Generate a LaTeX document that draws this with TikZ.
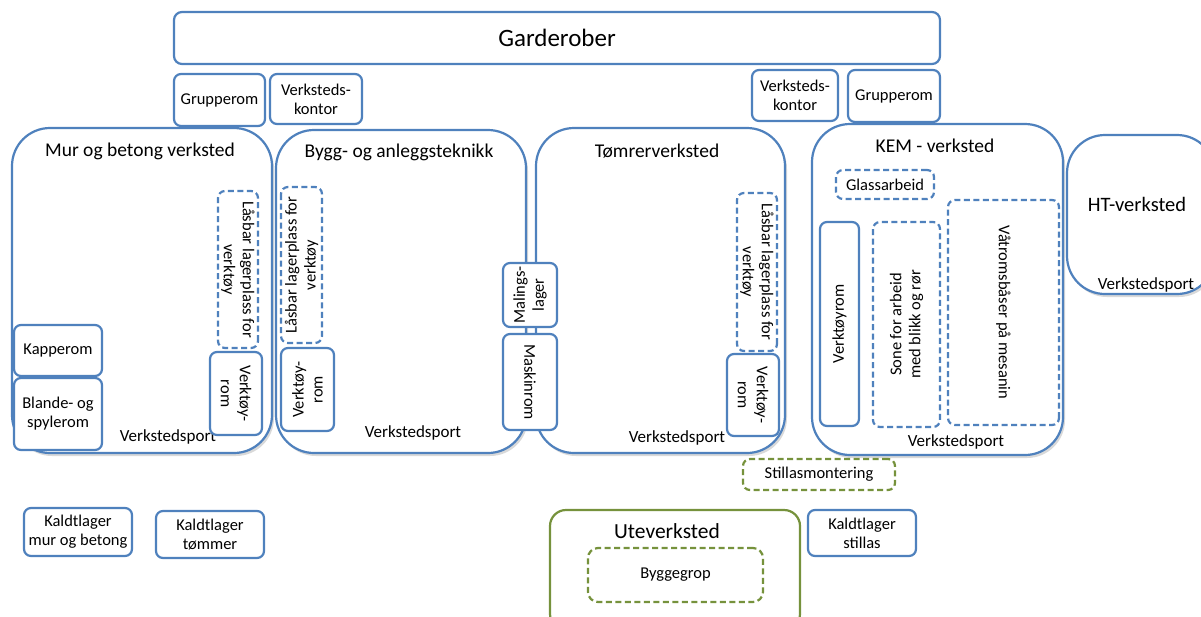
\documentclass[tikz,border=0pt]{standalone}
\usepackage{fontspec}
\setmainfont{Carlito}
\usetikzlibrary{shadows}
\definecolor{planblue}{RGB}{79,129,189}
\definecolor{plangreen}{RGB}{118,146,60}

\begin{document}
\begin{tikzpicture}[x=1pt,y=-1pt,
    room/.style={draw=planblue, line width=2.2pt, rounded corners=7pt, fill=white,
      align=center, inner sep=1pt, font=\fontsize{16.5}{19}\selectfont},
    zone/.style={room, dash pattern=on 6pt off 3.5pt},
    greenzone/.style={zone, draw=plangreen},
    hall/.style={draw=planblue, line width=2.2pt, rounded corners=38pt, fill=white,
      drop shadow={shadow xshift=2pt, shadow yshift=-3pt, opacity=0.3}},
    halltitle/.style={font=\fontsize{19.5}{22}\selectfont, inner sep=0pt},
    port/.style={font=\fontsize{17}{19}\selectfont, inner sep=0pt}]

  \useasboundingbox (0,0) rectangle (1201,616);
  \clip (0,0) rectangle (1201,616);

  % Garderober and offices
  \node[room, rounded corners=8pt, minimum width=766pt, minimum height=52pt,
    font=\fontsize{25}{28}\selectfont] (garderober) at (557,38) {Garderober};
  \node[room, minimum width=91pt, minimum height=52pt] (grupperomA) at (219.5,100) {Grupperom};
  \node[room, minimum width=92pt, minimum height=50pt] (kontorA) at (316,99) {Verksteds-\\kontor};
  \node[room, minimum width=86pt, minimum height=51pt] (kontorB) at (795,95.5) {Verksteds-\\kontor};
  \node[room, minimum width=92pt, minimum height=52pt] (grupperomB) at (894,96) {Grupperom};

  % Workshops
  \node[hall, minimum width=260pt, minimum height=325pt] (mur) at (142,290.5) {};
  \node[hall, minimum width=250pt, minimum height=323pt] (bygg) at (401,291.5) {};
  \node[hall, minimum width=249pt, minimum height=325pt] (tomrer) at (660.5,290.5) {};
  \node[hall, minimum width=251pt, minimum height=331pt] (kem) at (937.5,289.5) {};
  \node[hall, minimum width=148pt, minimum height=159pt] (ht) at (1141,214.5) {};

  \node[halltitle] (murT) at (140,151) {Mur og betong verksted};
  \node[halltitle] (byggT) at (399,152) {Bygg- og anleggsteknikk};
  \node[halltitle] (tomrerT) at (657,151) {Tømrerverksted};
  \node[halltitle] (kemT) at (935,146) {KEM - verksted};
  \node[halltitle, font=\fontsize{20.5}{24}\selectfont] (htT) at (1137,204) {HT-verksted};

  \node[port] (murP) at (168,437) {Verkstedsport};
  \node[port] (byggP) at (413,433) {Verkstedsport};
  \node[port] (tomrerP) at (677,438) {Verkstedsport};
  \node[port] (kemP) at (956,442) {Verkstedsport};
  \node[port] (htP) at (1146,285) {Verkstedsport};

  % Mur og betong
  \node[zone, rotate=-90, minimum width=157pt, minimum height=40pt] (laasA) at (238,269.5)
    {Låsbar lagerplass for\\verktøy};
  \node[room, rotate=-90, minimum width=83pt, minimum height=52pt] (verktoyA) at (236,393.5)
    {Verktøy-\\rom};
  \node[room, minimum width=88pt, minimum height=51pt] (kapperom) at (58,350.5) {Kapperom};
  \node[room, minimum width=88pt, minimum height=72pt] (blande) at (58,414) {Blande- og\\spylerom};

  % Bygg og anlegg
  \node[zone, rotate=90, minimum width=156pt, minimum height=41pt] (laasB) at (301.5,265)
    {Låsbar lagerplass for\\verktøy};
  \node[room, rotate=90, minimum width=83pt, minimum height=53pt] (verktoyB) at (307.5,389.5)
    {Verktøy-\\rom};
  \node[room, rotate=90, minimum width=64pt, minimum height=54pt] (maling) at (530,295)
    {Malings-\\lager};
  \node[room, rotate=-90, minimum width=96pt, minimum height=54pt] (maskin) at (530,382)
    {Maskinrom};

  % Tomrer
  \node[zone, rotate=-90, minimum width=158pt, minimum height=40pt] (laasC) at (757,272)
    {Låsbar lagerplass for\\verktøy};
  \node[room, rotate=-90, minimum width=82pt, minimum height=52pt] (verktoyC) at (753,395)
    {Verktøy-\\rom};

  % KEM
  \node[zone, minimum width=98pt, minimum height=29pt] (glass) at (885,184.5) {Glassarbeid};
  \node[room, rotate=90, minimum width=204pt, minimum height=39pt] (verktoyrom) at (839.5,324)
    {Verktøyrom};
  \node[zone, rotate=90, minimum width=205pt, minimum height=67pt] (sone) at (906.5,324.5)
    {Sone for arbeid\\med blikk og rør};
  \node[zone, rotate=-90, minimum width=225pt, minimum height=111pt] (vatrom) at (1003.5,312.5)
    {Våtromsbåser på mesanin};

  % Outdoor and cold storage
  \node[greenzone, minimum width=152pt, minimum height=31pt] (stillas) at (819,474.5)
    {Stillasmontering};
  \node[room, draw=plangreen, rounded corners=16pt, minimum width=250pt, minimum height=120pt]
    (ute) at (675,570) {};
  \node[halltitle, font=\fontsize{21.5}{24}\selectfont] (uteT) at (667,531) {Uteverksted};
  \node[greenzone, rounded corners=10pt, minimum width=175pt, minimum height=54pt]
    (byggegrop) at (675.5,575) {Byggegrop};
  \node[room, minimum width=108pt, minimum height=46pt] (kaldtS) at (862,533) {Kaldtlager\\stillas};
  \node[room, minimum width=108pt, minimum height=48pt] (kaldtM) at (78,532) {Kaldtlager\\mur og betong};
  \node[room, minimum width=108pt, minimum height=47pt] (kaldtT) at (210,534.5) {Kaldtlager\\tømmer};
\end{tikzpicture}
\end{document}
